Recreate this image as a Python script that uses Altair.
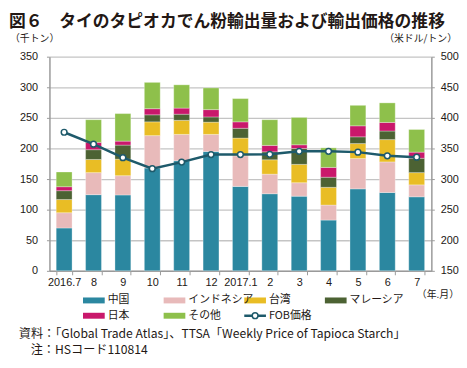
import altair as alt
import pandas as pd

months = ["2016.7", "8", "9", "10", "11", "12", "2017.1", "2", "3", "4", "5", "6", "7"]
series = ["中国", "インドネシア", "台湾", "マレーシア", "日本", "その他"]
china     = [70, 124.5, 124, 168, 180, 195, 138, 126, 122, 83, 134, 128, 121]
indonesia = [25, 36, 31.5, 53, 43, 28, 50, 32, 22, 24.5, 49.5, 50, 19.5]
taiwan    = [21.5, 21.5, 27, 22.5, 23, 20, 29, 23.5, 30, 29, 24.5, 36.5, 20]
malaysia  = [14.5, 16, 23, 11.5, 10, 8.5, 16, 13, 26, 16.5, 11, 14, 23.5]
japan     = [6.5, 12, 6.5, 10, 10, 12, 10.5, 10.5, 6, 16, 18, 14, 10]
other     = [24, 37, 45, 43, 38, 35.5, 38, 42, 44.7, 32, 33.5, 32, 37]
fob       = [376.5, 357, 335, 317, 327.7, 340, 340, 340.5, 345.4, 345.4, 344, 338, 335.7]
fob_name = "FOB価格"

title_text = "図６　タイのタピオカでん粉輸出量および輸出価格の推移"
left_unit = "（千トン）"
right_unit = "（米ドル/トン）"
x_unit = "（年.月）"
notes = ["資料：「Global Trade Atlas」、TTSA「Weekly Price of Tapioca Starch」",
         "注：HSコード110814"]

colors = ["#2b87a0", "#e8baba", "#e9bd25", "#4c6233", "#c9186b", "#8ec04b"]
line_color = "#1e5a6b"
grid_color = "#c4c4c4"
axis_color = "#9a9a9a"
txt_color = "#231815"
jp_font = "Noto Sans CJK JP"
num_font = "Liberation Sans"

W, H = 387, 217
OX, OY = 50, 55  # plot origin on page
RIGHT_EDGE, BOTTOM_EDGE = 465, 359

vals = [china, indonesia, taiwan, malaysia, japan, other]
rows = []
for si, (name, arr) in enumerate(zip(series, vals)):
    for m, v in zip(months, arr):
        rows.append({"month": m, "series": name, "value": v, "idx": si})
df = pd.DataFrame(rows)
df_fob = pd.DataFrame({"month": months, "fob": fob})

color_scale = alt.Scale(domain=series + [fob_name], range=colors + [line_color])

x_enc = alt.X("month:N", sort=months, title=None,
              scale=alt.Scale(paddingInner=0.46, paddingOuter=0.23),
              axis=alt.Axis(labelAngle=0, labelFont=num_font, labelFontSize=11,
                            labelColor=txt_color, domainColor=axis_color, domainWidth=1.5,
                            tickColor=axis_color, tickSize=4, tickWidth=1, tickBand="extent",
                            labelPadding=2, grid=False))

bars = alt.Chart(df).mark_bar(stroke="white", strokeWidth=0.5, strokeOpacity=0.6).encode(
    x=x_enc,
    y=alt.Y("value:Q", stack="zero", title=None,
            scale=alt.Scale(domain=[0, 350], nice=False),
            axis=alt.Axis(values=list(range(0, 351, 50)), labelFont=num_font, labelFontSize=11,
                          labelColor=txt_color, domainColor=axis_color, domainWidth=1.5,
                          tickColor=axis_color, tickSize=3, labelPadding=9,
                          grid=True, gridColor=grid_color, gridWidth=1.3)),
    color=alt.Color("series:N", scale=color_scale, legend=None),
    order=alt.Order("idx:Q"),
)

line = alt.Chart(df_fob).mark_line(
    color=line_color, strokeWidth=2.5,
    point=alt.OverlayMarkDef(filled=True, fill="white", stroke=line_color, strokeWidth=1.5, size=34),
).encode(
    x=alt.X("month:N", sort=months, title=None,
            scale=alt.Scale(paddingInner=0.46, paddingOuter=0.23), axis=None),
    y=alt.Y("fob:Q", title=None, scale=alt.Scale(domain=[150, 500], nice=False),
            axis=alt.Axis(orient="right", values=list(range(150, 501, 50)), labelFont=num_font,
                          labelFontSize=11, labelColor=txt_color, domainColor=axis_color,
                          domainWidth=1.5, tickColor=axis_color, tickSize=3, labelPadding=6,
                          grid=False)),
)

# legend (manual, positions computed from grid index)
leg_names = series + [fob_name]
leg_rows = []
for i, n in enumerate(leg_names):
    c, r = i % 4, i // 4
    lx = 84 + c * 81.7 - OX
    ly = 302 + r * 15.5 - OY
    leg_rows.append({"name": n, "lx": lx, "lx2": lx + 22, "lc": lx + 11, "tx": lx + 25, "ly": ly,
                     "kind": "line" if n == fob_name else "bar"})
leg = pd.DataFrame(leg_rows)

lx_enc = alt.X("lx:Q", scale=None, axis=None)
ly_enc = alt.Y("ly:Q", scale=None, axis=None)

sw_bar = alt.Chart(leg).transform_filter(alt.datum.kind == "bar").mark_rule(strokeWidth=6).encode(
    x=lx_enc, x2="lx2:Q", y=ly_enc, color=alt.Color("name:N", scale=color_scale, legend=None))
sw_line = alt.Chart(leg).transform_filter(alt.datum.kind == "line").mark_rule(
    strokeWidth=2.5, color=line_color).encode(x=lx_enc, x2="lx2:Q", y=ly_enc)
sw_pt = alt.Chart(leg).transform_filter(alt.datum.kind == "line").mark_point(
    filled=True, fill="white", stroke=line_color, strokeWidth=1.5, size=34, opacity=1).encode(
    x=alt.X("lc:Q", scale=None, axis=None), y=ly_enc)
leg_txt = alt.Chart(leg).mark_text(align="left", baseline="middle", font=jp_font, fontSize=11,
                                   color=txt_color).encode(
    x=alt.X("tx:Q", scale=None, axis=None), y=ly_enc, text="name:N")

# titles and notes
title_df = pd.DataFrame({"t": [title_text], "x": [9 - OX], "y": [20 - OY]})
title = alt.Chart(title_df).mark_text(align="left", baseline="middle", font=jp_font, fontSize=17,
                                      fontWeight="bold", color=txt_color).encode(
    x=alt.X("x:Q", scale=None, axis=None), y=alt.Y("y:Q", scale=None, axis=None), text="t:N")

lab_df = pd.DataFrame({
    "t": [left_unit, right_unit, x_unit],
    "x": [10 - OX, 463 - OX, 465 - OX],
    "y": [37 - OY, 37 - OY, 297 - OY],
    "a": ["l", "r", "r"],
})
lab_l = alt.Chart(lab_df).transform_filter(alt.datum.a == "l").mark_text(
    align="left", baseline="middle", font=jp_font, fontSize=10, color=txt_color).encode(
    x=alt.X("x:Q", scale=None, axis=None), y=alt.Y("y:Q", scale=None, axis=None), text="t:N")
lab_r = alt.Chart(lab_df).transform_filter(alt.datum.a == "r").mark_text(
    align="right", baseline="middle", font=jp_font, fontSize=10, color=txt_color).encode(
    x=alt.X("x:Q", scale=None, axis=None), y=alt.Y("y:Q", scale=None, axis=None), text="t:N")

note_df = pd.DataFrame({"t": notes, "x": [19 - OX, 31 - OX], "y": [336 - OY, 352 - OY]})
note = alt.Chart(note_df).mark_text(align="left", baseline="middle", font=jp_font, fontSize=12.3,
                                    color=txt_color).encode(
    x=alt.X("x:Q", scale=None, axis=None), y=alt.Y("y:Q", scale=None, axis=None), text="t:N")

chart = alt.layer(bars, line, sw_bar, sw_line, sw_pt, leg_txt, title, lab_l, lab_r, note).resolve_scale(
    x="independent", y="independent"
).properties(
    width=W, height=H,
    autosize=alt.AutoSizeParams(type="none"),
    padding={"left": OX - 8, "top": OY - 8,
             "right": RIGHT_EDGE - OX - W, "bottom": BOTTOM_EDGE - OY - H},
).configure_view(stroke=None)

chart.save("out.html", embed_options={"renderer": "svg", "actions": False})
